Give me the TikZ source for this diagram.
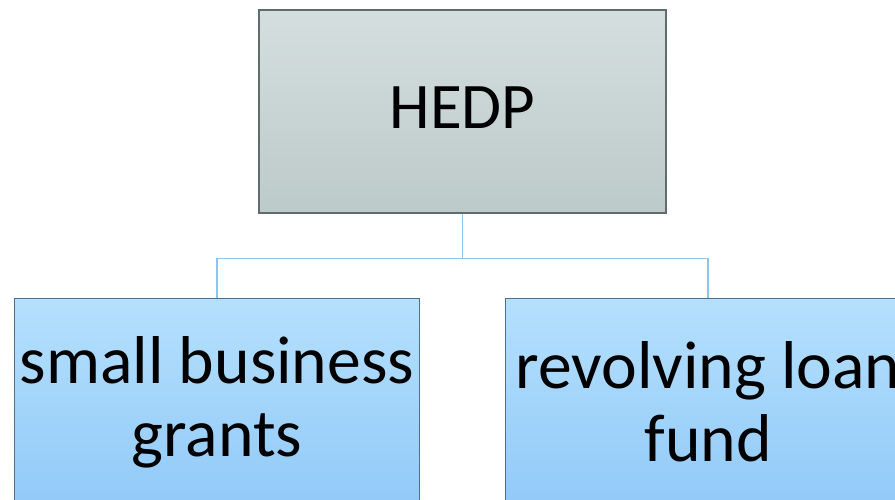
\documentclass[tikz,border=0pt]{standalone}
\usepackage{fontspec}
\setmainfont{Carlito}
\usetikzlibrary{positioning}
\definecolor{rootTop}{HTML}{D4DEDE}
\definecolor{rootBot}{HTML}{BDCACA}
\definecolor{rootLine}{HTML}{5F6D6D}
\definecolor{leafTop}{HTML}{B5E0FD}
\definecolor{leafBot}{HTML}{92CAF8}
\definecolor{leafLine}{HTML}{4F6F8F}
\definecolor{linkBlue}{HTML}{8CC6EE}
\begin{document}
\begin{tikzpicture}[
    rootbox/.style={draw=rootLine, line width=0.6pt, top color=rootTop, bottom color=rootBot,
        minimum width=8.14cm, minimum height=4.06cm, inner sep=0pt},
    leafbox/.style={draw=leafLine, line width=0.6pt, top color=leafTop, bottom color=leafBot,
        minimum width=8.1cm, minimum height=4.1cm, inner sep=0pt, anchor=north west},
    leaftext/.style={align=center, inner sep=0pt, font=\fontsize{38.5}{41.5}\selectfont},
    link/.style={draw=linkBlue, line width=0.8pt}
]
    \useasboundingbox (0,0) rectangle (17.9,10);
    \clip (0,0) rectangle (17.9,10);

    \node[rootbox] (hedp) at (9.25,7.77) {};
    \node[font=\fontsize{37}{42}\selectfont, inner sep=0pt] (hedptxt) at (9.25,7.85) {HEDP};

    \node[leafbox] (grants) at (0.28,4.04) {};
    \node[leafbox] (loan) at (10.1,4.04) {};
    \node[leaftext] (grantstxt) at ([yshift=-2.08cm]grants.north) {small business\\grants};
    \node[leaftext] (loantxt) at ([yshift=-2.08cm]loan.north) {revolving loan\\fund};

    \coordinate (split) at ([yshift=-0.9cm]hedp.south);
    \draw[link] (hedp.south) -- (split);
    \draw[link] (grants.north) |- (split) -| (loan.north);
\end{tikzpicture}
\end{document}
